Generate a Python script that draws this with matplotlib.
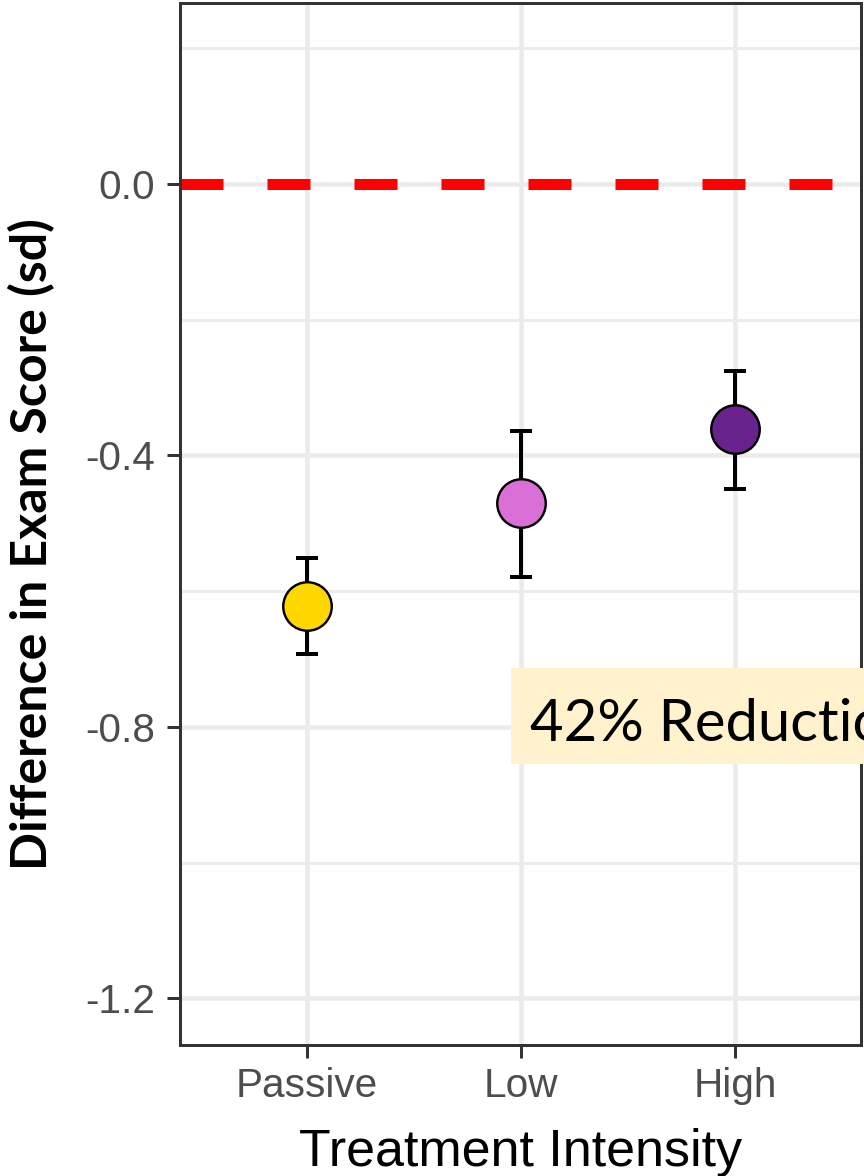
import matplotlib
matplotlib.use("Agg")
import matplotlib.pyplot as plt
from matplotlib.patches import Rectangle

# ---- data ----
categories = ["Passive", "Low", "High"]
means = [-0.622, -0.470, -0.361]
ci_low = [-0.693, -0.579, -0.450]
ci_high = [-0.551, -0.364, -0.276]
colors = ["#FFD700", "#DA70D6", "#68228B"]
y_ticks = [0.0, -0.4, -0.8, -1.2]
y_ticklabels = ["0.0", "-0.4", "-0.8", "-1.2"]
y_minor = [0.2, -0.2, -0.6, -1.0]
reference_line = 0.0
annotation = "42% Reduction"

W, H = 864, 1176
DPI = 100
PX = 72.0 / DPI  # points per pixel

plt.rcParams['lines.scale_dashes'] = False
fig = plt.figure(figsize=(W / DPI, H / DPI), dpi=DPI)
fig.patch.set_facecolor("white")

ax_l, ax_r, ax_t, ax_b = 180, 861, 3, 1045
ax = fig.add_axes([ax_l / W, 1 - ax_b / H, (ax_r - ax_l) / W, (ax_b - ax_t) / H])

x = list(range(1, len(categories) + 1))
ax.set_xlim(0.407, 3.589)
ax.set_ylim(-1.269, 0.267)

# grid
grid_col = "#EBEBEB"
for yv in y_minor:
    ax.axhline(yv, color=grid_col, lw=3 * PX, zorder=0)
for yv in y_ticks:
    ax.axhline(yv, color=grid_col, lw=4.5 * PX, zorder=0)
for xv in x:
    ax.axvline(xv, color=grid_col, lw=4.5 * PX, zorder=0)

# reference line
ax.axhline(reference_line, color="#FF0000", lw=11 * PX, zorder=2,
           dashes=(43 * PX, 44 * PX), solid_capstyle="butt", dash_capstyle="butt")

# error bars + points
lower = [m - lo for m, lo in zip(means, ci_low)]
upper = [hi - m for m, hi in zip(means, ci_high)]
ax.errorbar(x, means, yerr=[lower, upper], fmt="none", ecolor="black",
            elinewidth=4 * PX, capsize=11 * PX, capthick=4 * PX, zorder=3)
for xi, m, c in zip(x, means, colors):
    ax.plot([xi], [m], marker="o", markersize=48.5 * PX, markerfacecolor=c,
            markeredgecolor="black", markeredgewidth=2.4 * PX, zorder=4, linestyle="none")

# axes styling
for s in ax.spines.values():
    s.set_color("#333333")
    s.set_linewidth(3 * PX)
ax.set_xticks(x)
ax.set_xticklabels(categories)
ax.set_yticks(y_ticks)
ax.set_yticklabels(y_ticklabels)
ax.tick_params(axis="both", direction="out", length=13 * PX, width=3 * PX,
               color="#333333", labelcolor="#4D4D4D", labelsize=40.5 * PX)
ax.tick_params(axis="y", pad=12 * PX)
ax.tick_params(axis="x", pad=9 * PX)
for lab in ax.get_xticklabels() + ax.get_yticklabels():
    lab.set_family(["Liberation Sans", "DejaVu Sans"])

# x label
fig.text((ax_l + ax_r) / 2 / W, 1 - 1166 / H, "Treatment Intensity",
         ha="center", va="baseline", fontsize=52 * PX, color="black",
         family=["Liberation Sans", "DejaVu Sans"])

# y label
fig.text(32 / W, 1 - 544 / H, "Difference in Exam Score (sd)", rotation=90,
         ha="center", va="center", fontsize=50 * PX, fontweight="bold",
         color="black", family=["Lato", "DejaVu Sans"])

# annotation box (extends past the right edge of the figure)
fig.patches.append(Rectangle((511 / W, 1 - 764 / H), 0.6, 96 / H,
                             transform=fig.transFigure, facecolor="#FFF2CC",
                             edgecolor="none", zorder=5))
fig.text(530 / W, 1 - 741 / H, annotation, ha="left", va="baseline",
         fontsize=58 * PX, color="black", family=["Lato", "DejaVu Sans"], zorder=6)

fig.savefig("out.png", dpi=DPI)
